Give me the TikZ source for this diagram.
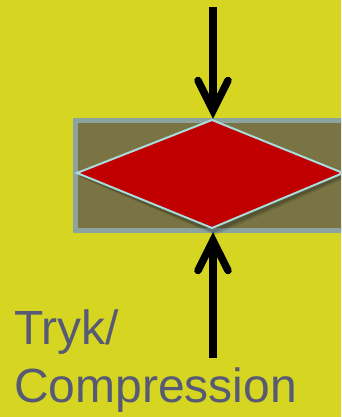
\documentclass[tikz,border=0pt]{standalone}
\usepackage{fontspec}
\setmainfont{Liberation Sans}
\definecolor{bgyellow}{HTML}{D6D622}
\definecolor{boxfill}{HTML}{7A7444}
\definecolor{boxedge}{HTML}{8CA3A0}
\definecolor{diared}{HTML}{C00000}
\definecolor{diaedge}{HTML}{A8DCDC}
\definecolor{txtcol}{HTML}{575A74}
\tikzset{
  bar/.style={draw=boxedge, fill=boxfill, line width=5pt},
  dia/.style={draw=diaedge, fill=diared, line width=2pt, line join=miter},
  shaft/.style={draw=black, line width=7.5pt},
  barb/.style={draw=black, line width=7.5pt, line cap=round, line join=miter, miter limit=10},
  lbl/.style={text=txtcol, font=\fontsize{48}{58}\selectfont, align=left, inner sep=0pt, anchor=north west}
}
\begin{document}
\begin{tikzpicture}[x=1pt,y=-1pt]
\useasboundingbox (0,0) rectangle (341,417);
\fill[bgyellow] (0,0) rectangle (341,417);
\clip (0,0) rectangle (341,417);
% bar
\draw[bar] (75.5,120) rectangle (380,230.5);
% diamond shadow
\fill[black, opacity=0.18] (79,176) -- (214,124) -- (346,176) -- (214,233) -- cycle;
\fill[black, opacity=0.12] (80,177) -- (215,125) -- (348,177) -- (215,235) -- cycle;
% diamond
\coordinate (dT) at (212,120);
\coordinate (dL) at (77,173);
\coordinate (dB) at (212,228);
\coordinate (dR) at (343,173);
\path[dia] (dT) -- (dR) -- (dB) -- (dL) -- cycle;
% top arrow
\coordinate (a1s) at (213,7);
\coordinate (a1t) at (213,110.5);
\draw[shaft] (a1s) -- (a1t);
\draw[barb] ([shift={(-15,-30)}]a1t) -- (a1t) -- ([shift={(15,-30)}]a1t);
% bottom arrow
\coordinate (a2s) at (213,358);
\coordinate (a2t) at (213,240.5);
\draw[shaft] (a2s) -- (a2t);
\draw[barb] ([shift={(-15,30)}]a2t) -- (a2t) -- ([shift={(15,30)}]a2t);
% label
\node[lbl] (lab) at (14,310) {Tryk/\\Compression};
\end{tikzpicture}
\end{document}
